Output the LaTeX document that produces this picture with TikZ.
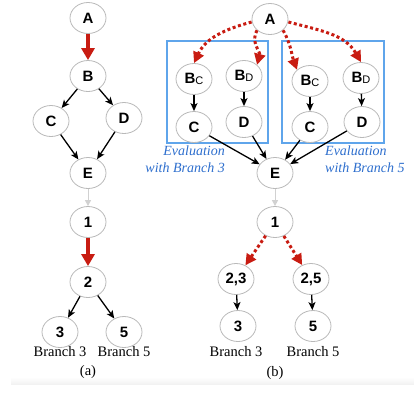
\documentclass[tikz,border=0pt]{standalone}
\usepackage{fontspec}
\setmainfont{Liberation Serif}
\newfontfamily\nodefont{Liberation Sans}
\usetikzlibrary{arrows.meta,shapes.geometric}
\definecolor{arrred}{RGB}{200,28,18}
\definecolor{boxblue}{RGB}{95,165,235}
\definecolor{txtblue}{RGB}{45,110,205}
\definecolor{nodegray}{RGB}{185,185,185}
\tikzset{
  vnode/.style={ellipse,draw=nodegray,line width=0.8pt,fill=white,minimum width=36pt,minimum height=31pt,inner sep=0pt,
    font=\nodefont\fontsize{15}{15}\selectfont\bfseries},
  blk/.style={-{Stealth[length=8pt,width=7pt,inset=2pt]},line width=1.3pt,black},
  redthick/.style={-{Triangle[length=12pt,width=13pt]},line width=3.2pt,arrred},
  reddot/.style={-{Triangle[length=11pt,width=11pt]},line width=3pt,arrred,dash pattern=on 3pt off 2.6pt},
  grayarr/.style={-{Triangle[length=6pt,width=6pt]},line width=1pt,black!18},
  evalbox/.style={draw=boxblue,line width=1.3pt},
  evaltxt/.style={text=txtblue,font=\fontsize{14}{17}\selectfont\itshape,inner sep=0pt},
  brlabel/.style={font=\fontsize{14.5}{14.5}\selectfont,inner sep=0pt},
}
\newcommand{\Bsub}[1]{B\raisebox{-1.5pt}{\fontsize{11}{11}\selectfont\mdseries #1}}
\begin{document}
\begin{tikzpicture}[x=1pt,y=-1pt]
\useasboundingbox (0,0) rectangle (414,392);
\shade[top color=white,bottom color=black!5] (11,377) rectangle (414,384);
% ---------- (a)
\node[vnode] (aA) at (88,18) {A};
\node[vnode] (aB) at (88,76) {B};
\node[vnode] (aC) at (51,121) {C};
\node[vnode] (aD) at (124,118) {D};
\node[vnode] (aE) at (88,173) {E};
\node[vnode] (a1) at (88,222) {1};
\node[vnode] (a2) at (88,282) {2};
\node[vnode] (a3) at (60,332) {3};
\node[vnode] (a5) at (124,332) {5};
\node[brlabel] (la3) at (60,352) {Branch 3};
\node[brlabel] (la5) at (124,352) {Branch 5};
\node[brlabel] (capa) at (88,372) {(a)};
\draw[redthick] (aA) -- (aB);
\draw[blk] (aB) -- (aC);
\draw[blk] (aB) -- (aD);
\draw[blk] (aC) -- (aE);
\draw[blk] (aD) -- (aE);
\draw[grayarr] (aE) -- (a1);
\draw[redthick] (a1) -- (a2);
\draw[blk] (a2) -- (a3);
\draw[blk] (a2) -- (a5);
% ---------- (b)
\draw[evalbox] (167,41) rectangle (268,143);
\draw[evalbox] (282,41) rectangle (384,143);
\node[vnode] (bA) at (270,19) {A};
\node[vnode] (bBc1) at (194,79) {\Bsub{C}};
\node[vnode] (bBd1) at (244,76) {\Bsub{D}};
\node[vnode] (bC1) at (194,127) {C};
\node[vnode] (bD1) at (244,122) {D};
\node[vnode] (bBc2) at (310,81) {\Bsub{C}};
\node[vnode] (bBd2) at (361,78) {\Bsub{D}};
\node[vnode] (bC2) at (310,127) {C};
\node[vnode] (bD2) at (362,122) {D};
\node[vnode] (bE) at (275,173) {E};
\node[vnode] (b1) at (275,222) {1};
\node[vnode] (b23) at (236,279) {2,3};
\node[vnode] (b25) at (311,279) {2,5};
\node[vnode] (b3) at (238,326) {3};
\node[vnode] (b5) at (313,326) {5};
\node[brlabel] (lb3) at (236,352) {Branch 3};
\node[brlabel] (lb5) at (313,352) {Branch 5};
\node[brlabel] (capb) at (275,373) {(b)};
\node[evaltxt,anchor=north east,align=right] (ev3) at (225,146) {Evaluation\\with Branch 3};
\node[evaltxt,anchor=north west,align=left] (ev5) at (325,146) {Evaluation\\with Branch 5};
\draw[reddot] (bA.west) ++(0,3) to[out=195,in=65] (bBc1.north);
\draw[reddot] (bA.south west) to[out=240,in=75] (bBd1.north east);
\draw[reddot] (bA.south east) to[out=-60,in=110] (bBc2.north west);
\draw[reddot] (bA.east) ++(0,3) to[out=-15,in=120] (bBd2.north);
\draw[blk] (bBc1) -- (bC1);
\draw[blk] (bBd1) -- (bD1);
\draw[blk] (bBc2) -- (bC2);
\draw[blk] (bBd2) -- (bD2);
\draw[blk] (bC1) -- (bE);
\draw[blk] (bD1) -- (bE);
\draw[blk] (bC2) -- (bE);
\draw[blk] (bD2) -- (bE);
\draw[grayarr] (bE) -- (b1);
\draw[reddot] (b1) -- (b23);
\draw[reddot] (b1) -- (b25);
\draw[blk] (b23) -- (b3);
\draw[blk] (b25) -- (b5);
\end{tikzpicture}
\end{document}
